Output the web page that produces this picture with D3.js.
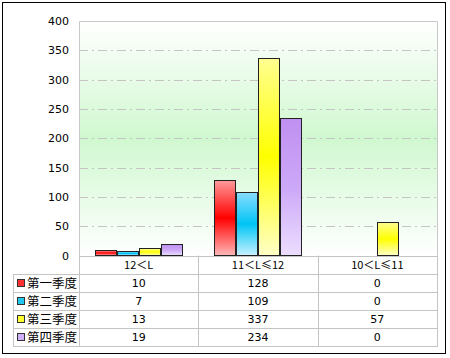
<!DOCTYPE html>
<html>
<head>
<meta charset="utf-8">
<script src="https://cdn.jsdelivr.net/npm/d3@7"></script>
<style>
  body { margin: 0; background: #fff; }
  svg { display: block; }
</style>
</head>
<body>
<div class="Canvas"></div>
<script>
const categories = ['12＜L', '11＜L≤12', '10＜L≤11'];
const seriesNames = ['第一季度', '第二季度', '第三季度', '第四季度'];
const q1 = [10, 128, 0];
const q2 = [7, 109, 0];
const q3 = [13, 337, 57];
const q4 = [19, 234, 0];
const yTicks = [0, 50, 100, 150, 200, 250, 300, 350, 400];

const series = [q1, q2, q3, q4];
// top / middle / bottom colours of each bar gradient
const colors = [
  ['#ff9a9a', '#ff0000', '#ffb8b8'],
  ['#88dcff', '#00c4f4', '#c8f2ff'],
  ['#ffff90', '#ffff00', '#ffffc8'],
  ['#c090f0', '#cca8f8', '#ecdeff'],
];
const legendColors = ['#ff3030', '#20c8f0', '#ffff30', '#d0b0f8'];

const width = 450;
const height = 358;
const plotLeft = 79;
const plotRight = 437;
const plotTop = 21;
const plotBottom = 255.5;
const rowH = 18;
const tableLeft = 13;
const barW = 22;

const svg = d3.select('.Canvas').append('svg').attr('width', width).attr('height', height);
const defs = svg.append('defs');

const bg = defs.append('linearGradient').attr('id', 'bg').attr('x1', 0).attr('y1', 0).attr('x2', 0).attr('y2', 1);
bg.append('stop').attr('offset', '0%').attr('stop-color', '#ffffff');
bg.append('stop').attr('offset', '50%').attr('stop-color', '#d0f8d0');
bg.append('stop').attr('offset', '100%').attr('stop-color', '#ffffff');

colors.forEach((c, i) => {
  const g = defs.append('linearGradient').attr('id', `bar${i}`).attr('x1', 0).attr('y1', 0).attr('x2', 0).attr('y2', 1);
  g.append('stop').attr('offset', '0%').attr('stop-color', c[0]);
  g.append('stop').attr('offset', '50%').attr('stop-color', c[1]);
  g.append('stop').attr('offset', '100%').attr('stop-color', c[2]);
});

// outer frame
svg.append('rect')
  .attr('x', 2.5).attr('y', 2.5).attr('width', 443).attr('height', 351)
  .attr('fill', '#fff').attr('stroke', '#000').attr('stroke-width', 1);

const x = d3.scaleBand().domain(categories).range([plotLeft, plotRight]);
const x1 = d3.scaleBand().domain(d3.range(series.length)).range([0, barW * series.length]);
const y = d3.scaleLinear().domain([0, 400]).range([plotBottom, plotTop]);

// plot background
svg.append('rect')
  .attr('x', plotLeft).attr('y', plotTop)
  .attr('width', plotRight - plotLeft).attr('height', plotBottom - plotTop)
  .attr('fill', 'url(#bg)');

// grid lines
svg.append('g')
  .selectAll('line')
  .data(yTicks.filter((d) => d > 0 && d < 400))
  .enter()
  .append('line')
  .attr('x1', plotLeft).attr('x2', plotRight)
  .attr('y1', (d) => Math.round(y(d)) + 0.5).attr('y2', (d) => Math.round(y(d)) + 0.5)
  .attr('stroke', '#c4c4c4')
  .attr('stroke-dasharray', '9,4,2,4');

// plot border
svg.append('path')
  .attr('d', `M${plotLeft + 0.5},${plotBottom}V${plotTop + 0.5}H${plotRight + 0.5}V${plotBottom}`)
  .attr('fill', 'none').attr('stroke', '#c8c8c8');

// y axis labels
const yAxis = d3.axisLeft(y).tickValues(yTicks).tickSize(0).tickPadding(10);
const yg = svg.append('g').attr('transform', `translate(${plotLeft},0)`).call(yAxis);
yg.select('.domain').remove();
yg.selectAll('text')
  .attr('font-family', 'Tahoma, "DejaVu Sans", sans-serif')
  .attr('font-size', '11px')
  .attr('fill', '#000');

// bars
const barG = svg.append('g');
series.forEach((s, si) => {
  barG.selectAll(`rect.s${si}`)
    .data(s.map((v, ci) => ({ v, c: categories[ci] })).filter((d) => d.v > 0))
    .enter()
    .append('rect')
    .attr('class', `s${si}`)
    .attr('x', (d) => Math.round(x(d.c) + x.bandwidth() / 2 - (barW * series.length) / 2 + x1(si)) + 0.5)
    .attr('y', (d) => Math.round(y(d.v)) + 0.5)
    .attr('width', barW - 1)
    .attr('height', (d) => plotBottom - Math.round(y(d.v)) - 0.5)
    .attr('fill', `url(#bar${si})`)
    .attr('stroke', '#222')
    .attr('stroke-width', 1);
});

// data table
const tbl = svg.append('g');
const tableTop = plotBottom;
const lineColor = '#c4c4c4';
for (let r = 0; r <= series.length + 1; r++) {
  const yy = Math.round(tableTop + r * rowH) + 0.5;
  tbl.append('line')
    .attr('x1', r === 0 ? plotLeft : tableLeft).attr('x2', plotRight + 1)
    .attr('y1', yy).attr('y2', yy)
    .attr('stroke', lineColor);
}
const tableBottom = Math.round(tableTop + (series.length + 1) * rowH) + 0.5;
tbl.append('line')
  .attr('x1', tableLeft + 0.5).attr('x2', tableLeft + 0.5)
  .attr('y1', Math.round(tableTop + rowH) + 0.5).attr('y2', tableBottom)
  .attr('stroke', lineColor);
categories.forEach((c) => {
  const xx = Math.round(x(c)) + 0.5;
  tbl.append('line').attr('x1', xx).attr('x2', xx).attr('y1', tableTop).attr('y2', tableBottom).attr('stroke', lineColor);
});
tbl.append('line')
  .attr('x1', plotRight + 0.5).attr('x2', plotRight + 0.5)
  .attr('y1', tableTop).attr('y2', tableBottom)
  .attr('stroke', lineColor);

// header labels
tbl.selectAll('text.cat')
  .data(categories)
  .enter()
  .append('text')
  .attr('class', 'cat')
  .attr('x', (d) => x(d) + x.bandwidth() / 2)
  .attr('y', tableTop + rowH / 2 + 4)
  .attr('text-anchor', 'middle')
  .attr('font-family', '"Noto Sans CJK SC", Tahoma, sans-serif')
  .attr('font-size', '11px')
  .text((d) => d);

// series rows
series.forEach((s, si) => {
  const rowY = tableTop + (si + 1) * rowH;
  tbl.append('rect')
    .attr('x', 17.5).attr('y', Math.round(rowY + 5) + 0.5)
    .attr('width', 7).attr('height', 7)
    .attr('fill', legendColors[si]).attr('stroke', '#333');
  tbl.append('text')
    .attr('x', 27).attr('y', rowY + rowH / 2 + 5)
    .attr('font-family', '"Noto Sans CJK SC", sans-serif')
    .attr('font-size', '12.5px')
    .text(seriesNames[si]);
  tbl.selectAll(`text.v${si}`)
    .data(s)
    .enter()
    .append('text')
    .attr('class', `v${si}`)
    .attr('x', (d, i) => x(categories[i]) + x.bandwidth() / 2)
    .attr('y', rowY + rowH / 2 + 4)
    .attr('text-anchor', 'middle')
    .attr('font-family', 'Tahoma, "DejaVu Sans", sans-serif')
    .attr('font-size', '11px')
    .text((d) => d);
});
</script>
</body>
</html>
